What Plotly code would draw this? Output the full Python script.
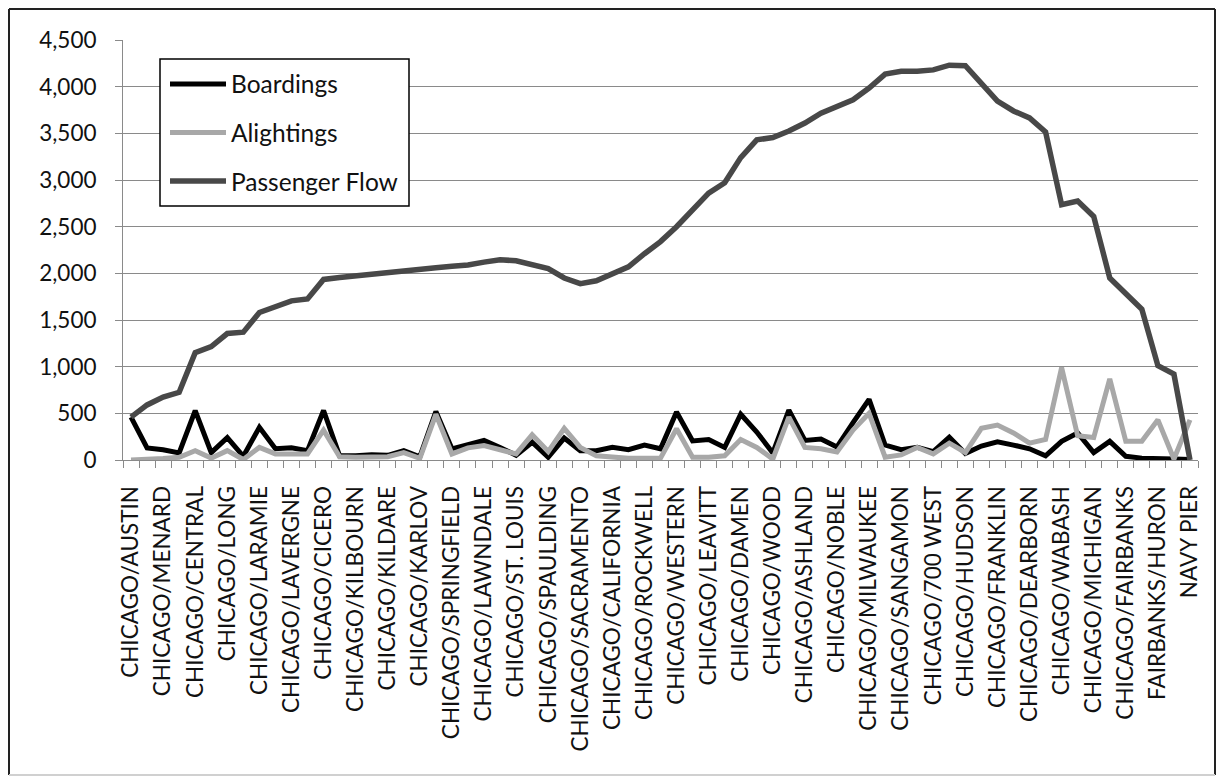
import plotly.graph_objects as go

# Route stops along Chicago Avenue; only every other stop carries a tick label
stop_labels = [
    "CHICAGO/AUSTIN", "CHICAGO/MENARD", "CHICAGO/CENTRAL", "CHICAGO/LONG",
    "CHICAGO/LARAMIE", "CHICAGO/LAVERGNE", "CHICAGO/CICERO", "CHICAGO/KILBOURN",
    "CHICAGO/KILDARE", "CHICAGO/KARLOV", "CHICAGO/SPRINGFIELD", "CHICAGO/LAWNDALE",
    "CHICAGO/ST. LOUIS", "CHICAGO/SPAULDING", "CHICAGO/SACRAMENTO", "CHICAGO/CALIFORNIA",
    "CHICAGO/ROCKWELL", "CHICAGO/WESTERN", "CHICAGO/LEAVITT", "CHICAGO/DAMEN",
    "CHICAGO/WOOD", "CHICAGO/ASHLAND", "CHICAGO/NOBLE", "CHICAGO/MILWAUKEE",
    "CHICAGO/SANGAMON", "CHICAGO/700 WEST", "CHICAGO/HUDSON", "CHICAGO/FRANKLIN",
    "CHICAGO/DEARBORN", "CHICAGO/WABASH", "CHICAGO/MICHIGAN", "CHICAGO/FAIRBANKS",
    "FAIRBANKS/HURON", "NAVY PIER",
]

boardings = [
    460, 130, 110, 75, 530, 80, 240, 40, 350, 120,
    130, 100, 530, 45, 45, 55, 50, 100, 35, 520,
    120, 170, 210, 135, 50, 190, 30, 235, 100, 100,
    135, 110, 160, 120, 515, 205, 220, 135, 490, 300,
    75, 535, 210, 225, 140, 400, 650, 160, 110, 135,
    90, 245, 70, 150, 195, 160, 120, 45, 200, 290,
    80, 200, 40, 20, 20, 10, 5,
]

alightings = [
    0, 5, 15, 30, 100, 20, 100, 5, 135, 65,
    65, 65, 320, 35, 30, 30, 35, 80, 18, 490,
    65, 130, 155, 110, 65, 270, 90, 340, 135, 45,
    30, 18, 18, 20, 335, 30, 30, 45, 220, 135,
    10, 460, 135, 120, 85, 320, 500, 30, 55, 135,
    65, 180, 80, 340, 375, 290, 180, 220, 990, 260,
    240, 870, 200, 200, 430, 10, 430,
]

passenger_flow = [
    460, 590, 675, 725, 1150, 1215, 1355, 1370, 1580, 1645,
    1705, 1725, 1935, 1955, 1975, 1995, 2010, 2030, 2040, 2060,
    2075, 2090, 2120, 2145, 2135, 2100, 2050, 1950, 1890, 1920,
    1990, 2070, 2210, 2340, 2500, 2680, 2860, 2970, 3240, 3430,
    3455, 3525, 3610, 3715, 3790, 3860, 3985, 4135, 4165, 4165,
    4180, 4230, 4225, 4035, 3845, 3740, 3665, 3515, 2735, 2775,
    2610, 1950, 1790, 1615, 1010, 920, 0,
]

n_stops = len(boardings)
stop_index = list(range(n_stops))

FONT = "Lato"
W, H = 1219, 777
L, R, T, B = 123, 21, 40, 317
PW, PH = W - L - R, H - T - B


def px(x):
    return (x - L) / PW


def py(y):
    return (H - B - y) / PH


series = [
    ("Boardings", boardings, "#000000", 5),
    ("Alightings", alightings, "#a8a8a8", 5),
    ("Passenger Flow", passenger_flow, "#484848", 5.5),
]

fig = go.Figure()
for name, values, color, width in series:
    fig.add_trace(go.Scatter(
        x=stop_index, y=values, name=name, mode="lines",
        line=dict(color=color, width=width), showlegend=False,
    ))

shapes = []
annotations = []

# legend box
shapes.append(dict(type="rect", xref="paper", yref="paper",
                   x0=px(160), x1=px(409), y0=py(206), y1=py(59),
                   line=dict(color="#000000", width=1.5), fillcolor="white", layer="above"))
for k, (name, _, color, width) in enumerate(series):
    yc = py(84 + 48.5 * k)
    shapes.append(dict(type="line", xref="paper", yref="paper",
                       x0=px(170), x1=px(226), y0=yc, y1=yc,
                       line=dict(color=color, width=width), layer="above"))
    annotations.append(dict(text=name, xref="paper", yref="paper", x=px(229), y=yc,
                            xanchor="left", yanchor="middle", showarrow=False,
                            font=dict(family=FONT, size=24.5, color="#111111")))

# chart frame
frame = [(9, 9, 1215, 9, "#222222"), (9, 9, 9, 775, "#222222"),
         (1215, 9, 1215, 775, "#222222"), (9, 775, 1215, 775, "#d0d0d0")]
for x0, y0, x1, y1, c in frame:
    shapes.append(dict(type="line", xref="paper", yref="paper",
                       x0=px(x0), x1=px(x1), y0=py(y0), y1=py(y1),
                       line=dict(color=c, width=2)))

fig.update_layout(
    width=W, height=H,
    margin=dict(l=L, r=R, t=T, b=B),
    paper_bgcolor="white", plot_bgcolor="white",
    font=dict(family=FONT, color="#111111"),
    shapes=shapes, annotations=annotations,
    xaxis=dict(
        range=[-0.5, n_stops - 0.5],
        tickmode="array",
        tickvals=stop_index[::2],
        ticktext=stop_labels,
        tickangle=-90,
        ticks="",
        ticklabelstandoff=16,
        tickfont=dict(family=FONT, size=22.5, color="#111111"),
        showgrid=False, zeroline=False,
        showline=True, linecolor="#8a8a8a", linewidth=1,
        minor=dict(tickmode="linear", tick0=-0.5, dtick=1, ticks="outside",
                   ticklen=7, tickcolor="#8a8a8a", tickwidth=1, showgrid=False),
    ),
    yaxis=dict(
        range=[0, 4500], dtick=500, tickformat=",",
        ticks="outside", ticklen=7, tickcolor="#8a8a8a",
        ticklabelstandoff=14,
        tickfont=dict(family=FONT, size=22.5, color="#111111"),
        showgrid=True, gridcolor="#8a8a8a", gridwidth=1,
        zeroline=False, showline=True, linecolor="#8a8a8a", linewidth=1,
    ),
)

fig.write_html("out.html")
